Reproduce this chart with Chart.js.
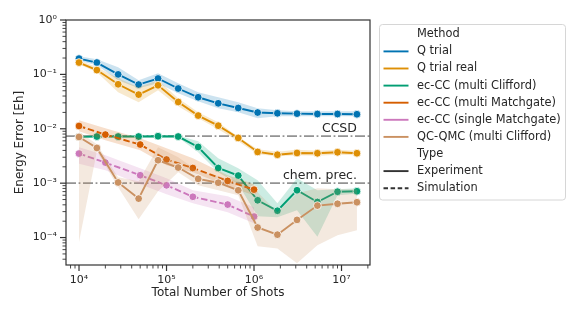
<!DOCTYPE html>
<html>
<head>
<meta charset="utf-8">
<script src="https://cdn.jsdelivr.net/npm/chart.js@4.4.1/dist/chart.umd.min.js"></script>
<style>
  html, body { margin: 0; padding: 0; background: #fff; }
  #wrap { width: 581px; height: 317px; position: relative; }
</style>
</head>
<body>
<div id="wrap"><canvas id="chart"></canvas></div>
<script>
// --- DATA ---
// shot grids (experiment runs and the matchgate simulations)
const shotsA = [1e4, 1.6e4, 2.8e4, 4.8e4, 8e4, 1.36e5, 2.3e5, 3.9e5, 6.6e5, 1.1e6, 1.85e6, 3.1e6, 5.3e6, 9e6, 1.5e7];
const shotsB = [1e4, 2e4, 5e4, 1e5, 2e5, 5e5, 1e6];

const qTrial   = [0.195, 0.165, 0.100, 0.065, 0.084, 0.055, 0.038, 0.0294, 0.0241, 0.0199, 0.0193, 0.019, 0.0187, 0.0187, 0.0185];
const qTrialHi = [0.215, 0.189, 0.135, 0.078, 0.105, 0.0686, 0.0469, 0.038, 0.0307, 0.0238, 0.0219, 0.021, 0.021, 0.021, 0.021];
const qTrialLo = [0.178, 0.147, 0.078, 0.0555, 0.0686, 0.045, 0.032, 0.0238, 0.0201, 0.0156, 0.017, 0.017, 0.017, 0.017, 0.017];

const qReal   = [0.165, 0.120, 0.0658, 0.0425, 0.063, 0.0311, 0.0175, 0.0114, 0.00678, 0.00375, 0.00333, 0.00359, 0.00355, 0.0037, 0.00355];
const qRealHi = [0.1816, 0.135, 0.0848, 0.0579, 0.078, 0.0364, 0.0201, 0.01317, 0.00716, 0.0042, 0.00378, 0.00411, 0.00394, 0.00411, 0.00394];
const qRealLo = [0.1534, 0.1093, 0.0469, 0.0307, 0.051, 0.0259, 0.0156, 0.0098, 0.00589, 0.0034, 0.00312, 0.00326, 0.00319, 0.00333, 0.00326];

const ecClifford   = [0.0071, 0.0072, 0.0072, 0.0072, 0.0073, 0.0072, 0.00463, 0.0019, 0.00138, 0.000485, 0.000311, 0.00074, 0.000451, 0.000695, 0.00071];
const ecCliffordHi = [0.0074, 0.0075, 0.0075, 0.0075, 0.0076, 0.0075, 0.00589, 0.00287, 0.00188, 0.00113, 0.000427, 0.00123, 0.00074, 0.000772, 0.000806];
const ecCliffordLo = [0.0068, 0.0069, 0.0069, 0.0069, 0.007, 0.0069, 0.0037, 0.00159, 0.000955, 0.000246, 0.000236, 0.000318, 0.000103, 0.000599, 0.000638];

const ecMulti   = [0.01125, 0.00782, 0.00513, 0.00272, 0.0019, 0.0011, 0.00076];
const ecMultiHi = [0.01433, 0.0102, 0.00669, 0.00438, 0.00287, 0.0014, 0.000955];
const ecMultiLo = [0.009, 0.00615, 0.00402, 0.00213, 0.00159, 0.000877, 0.0006];

const ecSingle   = [0.0035, 0.00239, 0.0014, 0.000914, 0.000562, 0.000404, 0.000243];
const ecSingleHi = [0.00457, 0.00326, 0.00188, 0.00123, 0.00074, 0.000574, 0.00036];
const ecSingleLo = [0.00227, 0.00173, 0.000955, 0.000625, 0.000427, 0.000292, 0.000183];

const qmc   = [0.00707, 0.00444, 0.00103, 0.00052, 0.00264, 0.00194, 0.0012, 0.00102, 0.00074, 0.000153, 0.000113, 0.000211, 0.000387, 0.000418, 0.000446];
const qmcHi = [0.0088, 0.00519, 0.00128, 0.00108, 0.00457, 0.003, 0.00166, 0.00134, 0.00108, 0.00068, 0.000292, 0.000652, 0.000806, 0.000772, 0.000772];
const qmcLo = [0.000083, 0.00386, 0.00084, 0.000217, 0.00071, 0.00159, 0.000915, 0.00074, 0.0006, 0.000069, 0.000063, 0.0000337, 0.0000722, 0.00011, 0.000136];

const methodNames  = ['Q trial', 'Q trial real', 'ec-CC (multi Clifford)', 'ec-CC (multi Matchgate)', 'ec-CC (single Matchgate)', 'QC-QMC (multi Clifford)'];
const methodColors = ['#0173b2', '#de8f05', '#029e73', '#d55e00', '#cc78bc', '#ca9161'];
const typeNames = ['Experiment', 'Simulation'];

const refLabels = ['CCSD', 'chem. prec.'];
const refValues = [0.0073, 0.001];

const xTicks = [1e4, 1e5, 1e6, 1e7];
const xTickLabels = ['10\u2074', '10\u2075', '10\u2076', '10\u2077'];
const yTicks = [1e-4, 1e-3, 1e-2, 1e-1, 1];
const yTickLabels = ['10\u207B\u2074', '10\u207B\u00B3', '10\u207B\u00B2', '10\u207B\u00B9', '10\u2070'];

const X_MIN = 7100, X_MAX = 2.116e7;
const Y_MIN = 3.13e-5, Y_MAX = 1;

// --- SETUP ---
const FONT = 'DejaVu Sans';
const TEXT = '#262626';

const series = [
    { x: shotsA, y: qTrial, lo: qTrialLo, hi: qTrialHi, sim: false },
    { x: shotsA, y: qReal, lo: qRealLo, hi: qRealHi, sim: false },
    { x: shotsA, y: ecClifford, lo: ecCliffordLo, hi: ecCliffordHi, sim: false },
    { x: shotsB, y: ecMulti, lo: ecMultiLo, hi: ecMultiHi, sim: true },
    { x: shotsB, y: ecSingle, lo: ecSingleLo, hi: ecSingleHi, sim: true },
    { x: shotsA, y: qmc, lo: qmcLo, hi: qmcHi, sim: false }
];

function withAlpha(hex, a) {
    const n = parseInt(hex.slice(1), 16);
    return `rgba(${(n >> 16) & 255}, ${(n >> 8) & 255}, ${n & 255}, ${a})`;
}

const pts = (xs, ys) => xs.map((x, k) => ({ x: x, y: ys[k] }));

const datasets = [];

// horizontal reference lines, under everything else
refValues.forEach(v => {
    datasets.push({
        data: [{ x: X_MIN, y: v }, { x: X_MAX, y: v }],
        borderColor: 'rgba(135,135,135,0.9)', borderWidth: 1.8,
        borderDash: [10, 2.6, 1.8, 2.6], pointRadius: 0, order: 100
    });
});

series.forEach((s, i) => {
    const col = methodColors[i];
    // band = upper + lower with fill between
    datasets.push({
        data: pts(s.x, s.hi), borderWidth: 0, borderColor: 'transparent',
        pointRadius: 0, fill: false, order: 60 - 2 * i
    });
    datasets.push({
        data: pts(s.x, s.lo), borderWidth: 0, borderColor: 'transparent',
        pointRadius: 0, fill: '-1', backgroundColor: withAlpha(col, 0.2), order: 60 - 2 * i
    });
    datasets.push({
        label: methodNames[i],
        data: pts(s.x, s.y), borderColor: col, borderWidth: 1.9,
        borderDash: s.sim ? [6.5, 2.8] : [],
        pointRadius: 3.9, pointBackgroundColor: col,
        pointBorderColor: '#ffffff', pointBorderWidth: 0.8,
        fill: false, order: 59 - 2 * i
    });
});

// frame on top/right + tick marks (major and minor, outward)
const frameTicks = {
    id: 'frameTicks',
    afterDraw(chart) {
        const { ctx, chartArea: a, scales } = chart;
        ctx.save();
        ctx.strokeStyle = '#333';
        for (let e = 3; e <= 7; e++) {
            for (let m = 1; m <= 9; m++) {
                const v = m * Math.pow(10, e);
                if (v < X_MIN || v > X_MAX) continue;
                const px = scales.x.getPixelForValue(v);
                ctx.lineWidth = m === 1 ? 1.2 : 0.9;
                ctx.beginPath();
                ctx.moveTo(px, a.bottom);
                ctx.lineTo(px, a.bottom + (m === 1 ? 6 : 3.5));
                ctx.stroke();
            }
        }
        for (let e = -5; e <= 0; e++) {
            for (let m = 1; m <= 9; m++) {
                const v = m * Math.pow(10, e);
                if (v < Y_MIN || v > Y_MAX * 1.0001) continue;
                const py = scales.y.getPixelForValue(v);
                ctx.lineWidth = m === 1 ? 1.2 : 0.9;
                ctx.beginPath();
                ctx.moveTo(a.left, py);
                ctx.lineTo(a.left - (m === 1 ? 6 : 3.5), py);
                ctx.stroke();
            }
        }
        ctx.lineWidth = 1.2;
        ctx.strokeRect(a.left, a.top, a.right - a.left, a.bottom - a.top);

        // reference line captions
        ctx.fillStyle = TEXT;
        ctx.font = `12.5px "${FONT}"`;
        ctx.textAlign = 'right';
        ctx.textBaseline = 'alphabetic';
        const tx = scales.x.getPixelForValue(shotsA[shotsA.length - 1]);
        refValues.forEach((v, i) => {
            ctx.fillText(refLabels[i], tx, scales.y.getPixelForValue(v) - 4);
        });
        ctx.restore();
    }
};

// seaborn-like legend with "Method" / "Type" headers
const sideLegend = {
    id: 'sideLegend',
    afterDraw(chart) {
        const ctx = chart.ctx;
        const rows = [{ text: 'Method' }];
        methodNames.forEach((n, i) => rows.push({ text: n, color: methodColors[i], dash: [] }));
        rows.push({ text: 'Type' });
        rows.push({ text: typeNames[0], color: '#333', dash: [] });
        rows.push({ text: typeNames[1], color: '#333', dash: [4.5, 2.6] });

        const bx = 379.5, by = 24.5, bw = 186, bh = 175.5, r = 3;
        ctx.save();
        ctx.beginPath();
        ctx.moveTo(bx + r, by);
        ctx.arcTo(bx + bw, by, bx + bw, by + bh, r);
        ctx.arcTo(bx + bw, by + bh, bx, by + bh, r);
        ctx.arcTo(bx, by + bh, bx, by, r);
        ctx.arcTo(bx, by, bx + bw, by, r);
        ctx.closePath();
        ctx.fillStyle = '#fff';
        ctx.fill();
        ctx.strokeStyle = '#d6d6d6';
        ctx.lineWidth = 1;
        ctx.stroke();

        ctx.font = `11.4px "${FONT}"`;
        ctx.textAlign = 'left';
        ctx.textBaseline = 'middle';
        rows.forEach((row, k) => {
            const y = 34.3 + k * 17.1;
            if (row.color) {
                ctx.strokeStyle = row.color;
                ctx.lineWidth = 1.9;
                ctx.setLineDash(row.dash);
                ctx.beginPath();
                ctx.moveTo(383.5, y);
                ctx.lineTo(408.5, y);
                ctx.stroke();
                ctx.setLineDash([]);
            }
            ctx.fillStyle = TEXT;
            ctx.fillText(row.text, 417, y);
        });
        ctx.restore();
    }
};

const ctx = document.getElementById('chart').getContext('2d');
new Chart(ctx, {
    type: 'line',
    data: { datasets: datasets },
    options: {
        responsive: true,
        maintainAspectRatio: false,
        animation: false,
        layout: { padding: { left: 0, right: 211, top: 20, bottom: 0 } },
        plugins: { legend: { display: false }, tooltip: { enabled: false } },
        elements: { line: { tension: 0 } },
        scales: {
            x: {
                type: 'logarithmic', min: X_MIN, max: X_MAX,
                afterFit: s => { s.height = 52; },
                afterBuildTicks: s => { s.ticks = xTicks.map(v => ({ value: v })); },
                ticks: {
                    autoSkip: false, maxRotation: 0, padding: 9, color: TEXT,
                    font: { family: FONT, size: 11 },
                    callback: (v, i) => xTickLabels[i]
                },
                grid: { drawOnChartArea: false, drawTicks: false },
                border: { display: false },
                title: {
                    display: true, text: 'Total Number of Shots', color: TEXT,
                    font: { family: FONT, size: 12 }, padding: { top: 0, bottom: 17 }
                }
            },
            y: {
                type: 'logarithmic', min: Y_MIN, max: Y_MAX,
                afterFit: s => { s.width = 66; },
                afterBuildTicks: s => { s.ticks = yTicks.map(v => ({ value: v })); },
                ticks: {
                    autoSkip: false, padding: 9, color: TEXT,
                    font: { family: FONT, size: 11 },
                    callback: (v, i) => yTickLabels[i]
                },
                grid: { drawOnChartArea: false, drawTicks: false },
                border: { display: false },
                title: {
                    display: true, text: 'Energy Error [Eh]', color: TEXT,
                    font: { family: FONT, size: 12 }, padding: { top: 13, bottom: 0 }
                }
            }
        }
    },
    plugins: [frameTicks, sideLegend]
});
</script>
</body>
</html>
